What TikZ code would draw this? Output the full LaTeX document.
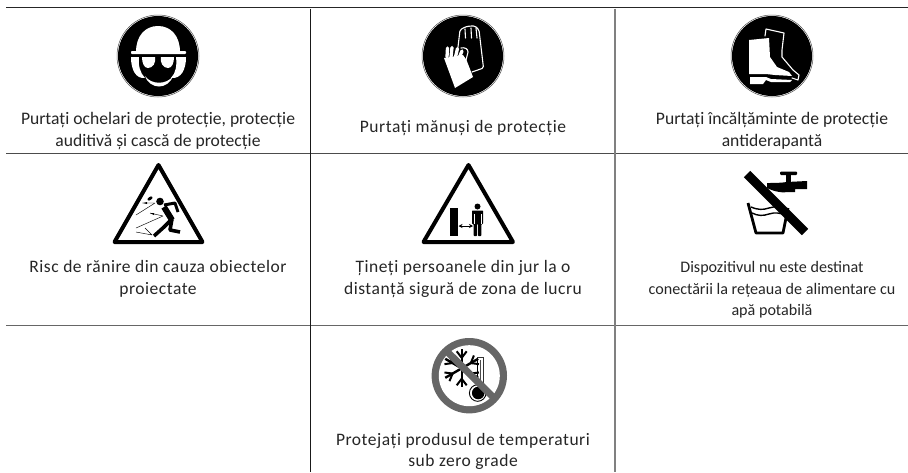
\documentclass[tikz,border=0pt]{standalone}
\usepackage{fontspec}
\usetikzlibrary{arrows.meta}
\setmainfont{Carlito}
\tikzset{
  x=1pt,y=-1pt,
  lbl/.style={align=center,inner sep=0pt,font=\fontsize{17.6}{22}\selectfont,text=black!85},
  lbls/.style={align=center,inner sep=0pt,font=\fontsize{17.5}{21.5}\selectfont\addfontfeature{LetterSpace=3},text=black!85},
  lblb/.style={align=center,inner sep=0pt,font=\fontsize{16.1}{21.7}\selectfont,text=black!85},
  wline/.style={draw=white,fill=none,line width=1.1pt,line join=round,line cap=round},
  warn/.style={draw=black,fill=white,line width=4pt,line join=round},
  thin arrow/.style={draw=black,line width=0.45pt},
}
\begin{document}
\begin{tikzpicture}
\useasboundingbox (0,0) rectangle (908,472);
\fill[white] (0,0) rectangle (908,472);
% grid
\draw[black!85,line width=1pt] (6,7.5) -- (908,7.5);
\draw[black!70,line width=1pt] (6,153) -- (908,153);
\draw[black!60,line width=1pt] (6,325) -- (908,325);
\draw[black!90,line width=0.9pt] (310.5,8.5) -- (310.5,472);
\draw[black!50,line width=1.4pt] (615,8.5) -- (615,472);
% --- sign 1
\fill[black] (158,56) circle (40);
\draw[black!70,line width=0.5pt] (158,56) circle (41);
\fill[white] (136,52) .. controls (136,36) and (145,26) .. (158,26) .. controls (171,26) and (180,36) .. (180,52) -- cycle;
\fill[white,rounded corners=0.8pt] (131,51) rectangle (186,54);
\fill[white] (131,57) -- (139,57) .. controls (138,65) and (140,73) .. (145,78) .. controls (136,79) and (131,70) .. (131,57) -- cycle;
\fill[white] (186,57) -- (176,57) .. controls (177,65) and (176,73) .. (171,78) .. controls (181,79) and (186,70) .. (186,57) -- cycle;
\fill[white] (142,57) -- (155,57) .. controls (156,63) and (153,68) .. (148,68) .. controls (144,68) and (142,63) .. (142,57) -- cycle;
\fill[white] (174,57) -- (161,57) .. controls (160,63) and (163,68) .. (168,68) .. controls (172,68) and (174,63) .. (174,57) -- cycle;
\fill[white] (145,76) .. controls (150,90) and (168,90) .. (173,76) .. controls (167,85) and (151,85) .. (145,76) -- cycle;
% --- sign 2
\fill[black] (463,56) circle (40);
\draw[black!70,line width=0.5pt] (463,56) circle (41);
\draw[wline,rounded corners=1.5pt] (458,47) -- (460,30) -- (465,27) -- (470,26) -- (475,26) -- (479,30) -- (483.5,68) -- (472,72);
\draw[wline] (465,29) -- (465.5,38) (471,28) -- (471.5,38) (476,28) -- (477,38);
\draw[wline] (461,48) .. controls (465,47) and (468,49) .. (468,52) -- (466,60);
\fill[white] (444,58) -- (463,55) -- (466.5,60) -- (473,77) -- (455,88) -- cycle;
\draw[white,line width=3.3pt,line cap=round] (447,57) -- (447.5,48) (451,57) -- (452,47.5) (455.5,57) -- (457.5,48.5) (459.5,57) -- (462,51);
% --- sign 3
\fill[black] (772,56) circle (40);
\draw[black!70,line width=0.5pt] (772,56) circle (41);
\fill[white] (749,40) -- (769,38) -- (770,57) -- (777,67) -- (789,72) -- (792,76) -- (775,75) -- (766,74) -- (749,74) -- cycle;
\fill[white] (750,77) -- (766,77) -- (771,79) -- (792,80) -- (790,82) -- (771,82) -- (766,80) -- (763,84) -- (750,84) -- cycle;
\draw[wline] (766,29) -- (765,36) (766,29) -- (784,33) -- (782,50) -- (782,57) -- (793,70) -- (799,75) -- (798,80) -- (792,78);
% --- sign 4: runner
\path[warn] (114.5,242) -- (202.5,242) -- (158.5,165) -- cycle;
\fill[black] (160,201.5) circle (3.8);
\fill[black,rotate around={35:(150,198.5)}] (150,198.5) ellipse (2.8 and 1.6);
\draw[black,line width=6pt,line join=round] (164,207) -- (172,220);
\draw[black,line width=3pt,line join=round] (164,205) -- (175,203) -- (178,212);
\draw[black,line width=3.6pt,line join=round] (172,219) -- (164,227) -- (154,236);
\draw[black,line width=3.6pt,line join=round] (172,219) -- (170,230) -- (180,232);
\draw[thin arrow] (155,203) -- (142,203) (155,203) -- (136,215) (163,216) -- (150,213) (163,216) -- (136,228) (152,235) -- (136,232) (152,235) -- (145,228);
\fill[black] (143,203) -- (147,202) -- (147,204) -- cycle;
\fill[black] (150,213) -- (154,213) -- (154,215) -- cycle;
% --- sign 5: distance
\path[warn] (423.5,242) -- (513,242) -- (468.5,165) -- cycle;
\fill[black] (450,207.5) rectangle (458,236);
\draw[black,line width=0.8pt,{Stealth[length=4pt,width=4pt]}-{Stealth[length=4pt,width=4pt]}] (458.5,226) -- (473,226);
\fill[black] (477.5,206.5) circle (3);
\fill[black,rounded corners=0.7pt] (472,210.5) -- (483,210.5) -- (483,224) -- (481.4,224) -- (481.4,236) -- (478,236) -- (478,224) -- (477,224) -- (477,236) -- (473.6,236) -- (473.6,224) -- (472,224) -- cycle;
\draw[white,line width=0.4pt] (474,214) -- (474,224) (481,214) -- (481,224);
% --- sign 6: tap
\draw[black,line width=9pt] (747,174) -- (805,232);
\fill[black] (767,183) .. controls (775,183) and (780,183) .. (787,182) -- (807,181) -- (807,189) -- (795,189) -- (795,192) -- (788,192) .. controls (783,193) and (775,192) .. (767,188) -- cycle;
\fill[black,rounded corners=1pt] (780,171.5) rectangle (797,175);
\fill[black] (786,175) rectangle (791,183);
\draw[black,line width=2.8pt,line join=round] (748,203) -- (756,233) -- (783,233) -- (788,208);
\draw[black,line width=1.4pt] (751,207) .. controls (758,210) and (763,210) .. (769,208) .. controls (775,206) and (780,207) .. (787,209);
\draw[black,line width=1.4pt] (752,213) .. controls (758,216) and (763,216) .. (769,214) .. controls (775,212) and (780,213) .. (786,215);
% --- sign 7: snow
\fill[black!60] (469.3,375.7) circle (37.7);
\fill[white] (469.3,375.7) circle (30.5);
\begin{scope}[shift={(461.7,368.3)}]
\foreach \a in {90,30,150,210,270,330}{
\begin{scope}[rotate=\a]
\draw[black,line width=2.4pt] (0,0) -- (19,0);
\draw[black,line width=2pt] (10.5,0) -- (17,5) (10.5,0) -- (17,-5);
\end{scope}}
\end{scope}
\draw[black,line width=0.9pt] (477,357) -- (477,384);
\draw[black!80,line width=1pt] (477,357) -- (483,357) -- (483,386);
\draw[black!70,line width=0.6pt] (480,360) -- (480,384);
\fill[white] (477.7,393) circle (8.3);
\draw[black,line width=0.9pt] (477.7,393) circle (8.3);
\fill[black] (478.2,393) circle (6.3);
\draw[black!60,line width=7pt] (447.5,352) -- (494,398);
% --- labels
\node[lbl] (t1) at (158,130.5) {Purtați ochelari de protecție, protecție\\auditivă și cască de protecție};
\node[lbls] (t2) at (463,128.5) {Purtați mănuși de protecție};
\node[lbl] (t3) at (772,130.5) {Purtați încălțăminte de protecție\\antiderapantă};
\node[lbls] (t4) at (158,279) {Risc de rănire din cauza obiectelor\\proiectate};
\node[lbls] (t5) at (463,279) {Țineți persoanele din jur la o\\distanță sigură de zona de lucru};
\node[lblb] (t6) at (772,290) {Dispozitivul nu este destinat\\conectării la rețeaua de alimentare cu\\apă potabilă};
\node[lbls] (t7) at (463,451.5) {Protejați produsul de temperaturi\\sub zero grade};
\end{tikzpicture}
\end{document}
